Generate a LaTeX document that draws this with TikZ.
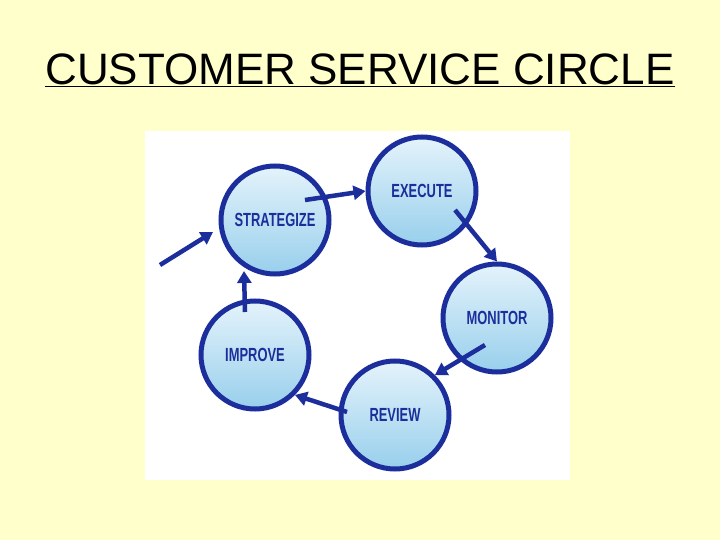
\documentclass[tikz,border=0pt]{standalone}
\usepackage{fontspec}
\setmainfont{Liberation Sans}
\usetikzlibrary{arrows.meta}
\definecolor{bg}{HTML}{FFFFCC}
\definecolor{dblue}{HTML}{1C2E9C}
\definecolor{ltop}{HTML}{E4F3FB}
\definecolor{lbot}{HTML}{98CFEC}
\begin{document}
\begin{tikzpicture}[x=1pt,y=-1pt,
  stage/.style={circle,minimum size=108pt,inner sep=0pt,draw=dblue,line width=5pt,
    top color=ltop,bottom color=lbot,text=dblue,
    font=\bfseries\fontsize{19}{19}\selectfont},
  flow/.style={draw=dblue,line width=4.5pt,-{Triangle[length=12pt,width=14pt]}}]
\useasboundingbox (0,0) rectangle (720,540);
\fill[bg] (0,0) rectangle (720,540);
\fill[white] (145,131) rectangle (570,480);
\node[font=\fontsize{44}{44}\selectfont] (title) at (360,70) {\underline{CUSTOMER SERVICE CIRCLE}};
\node[stage] (s) at (275,220) {\scalebox{0.68}[1]{STRATEGIZE}};
\node[stage] (e) at (422,191) {\scalebox{0.68}[1]{EXECUTE}};
\node[stage] (m) at (497,318) {\scalebox{0.68}[1]{MONITOR}};
\node[stage] (r) at (395,415) {\scalebox{0.68}[1]{REVIEW}};
\node[stage] (i) at (255,355) {\scalebox{0.68}[1]{IMPROVE}};
\coordinate (in) at (160,265);
\coordinate (ine) at (213,232);
\coordinate (s1) at (305,200);
\coordinate (e1) at (455,210);
\coordinate (m1) at (485,345);
\coordinate (r1) at (347,412);
\coordinate (i1) at (245,312);
\coordinate (i2) at (244,271);
\draw[flow] (in) -- (ine);
\draw[flow] (s1) -- (e.west);
\draw[flow] (e1) -- (m.north);
\draw[flow] (m1) -- (r.north east);
\draw[flow] (r1) -- (i.south east);
\draw[flow] (i1) -- (i2);
\end{tikzpicture}
\end{document}
